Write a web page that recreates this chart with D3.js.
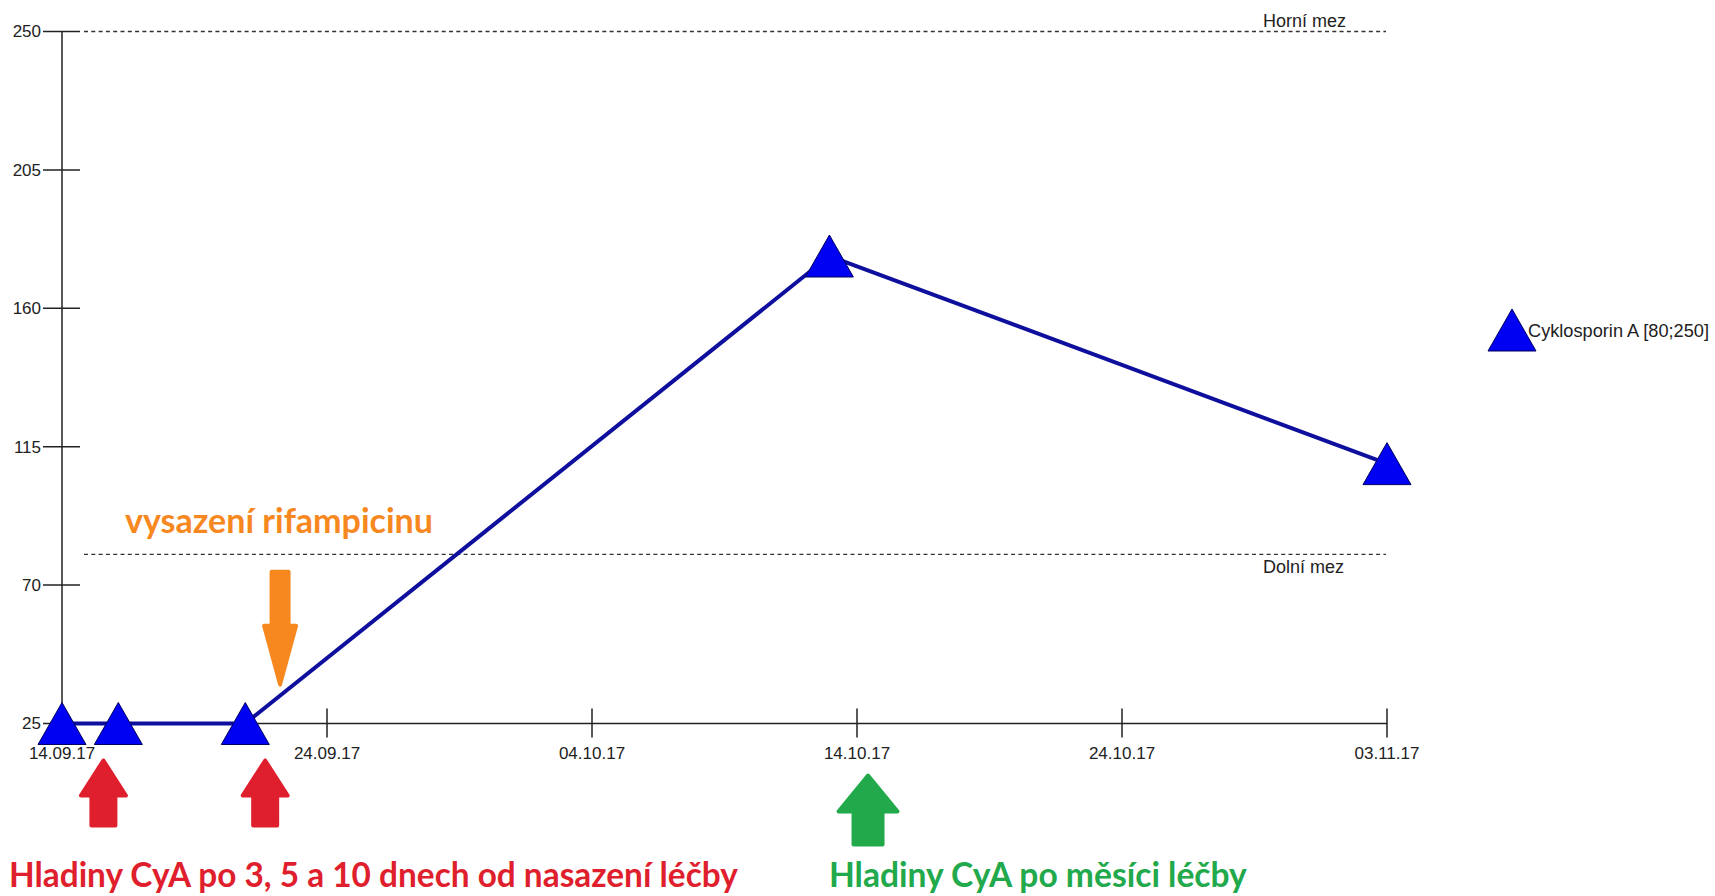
<!DOCTYPE html>
<html>
<head>
<meta charset="utf-8">
<script src="https://cdn.jsdelivr.net/npm/d3@7"></script>
<style>
  html, body { margin: 0; padding: 0; background: #fff; }
  svg { display: block; }
</style>
</head>
<body>
<svg id="chart" width="1715" height="896"></svg>
<script>
// ---- data ----
const seriesName = "Cyklosporin A [80;250]";
const dates = ["2017-09-14T00:00", "2017-09-16T03:00", "2017-09-20T22:00", "2017-10-12T23:00", "2017-11-03T00:00"];
const values = [25, 25, 25, 177, 109.5];
const yTicks = [25, 70, 115, 160, 205, 250];
const xTickDates = ["2017-09-14", "2017-09-24", "2017-10-04", "2017-10-14", "2017-10-24", "2017-11-03"];
const limitValues = [250, 80];
const limitLabels = ["Horní mez", "Dolní mez"];
// annotation arrows (anchored on dates)
const upArrowDates = ["2017-09-15T13:30", "2017-09-21T16:00"];
const greenArrowDate = "2017-10-14T10:00";
const orangeArrowDate = "2017-09-22T05:30";
const orangeArrowRange = [75, 37];
const annotationTexts = ["vysazení rifampicinu", "Hladiny CyA po 3, 5 a 10 dnech od nasazení léčby", "Hladiny CyA po měsíci léčby"];

// ---- setup ----
const parse = d3.utcParse("%Y-%m-%dT%H:%M");
const parseDay = d3.utcParse("%Y-%m-%d");
const fmt = d3.utcFormat("%d.%m.%y");
const svg = d3.select("#chart");

const x = d3.scaleUtc()
  .domain([parseDay(xTickDates[0]), parseDay(xTickDates[xTickDates.length - 1])])
  .range([62, 1387]);
const y = d3.scaleLinear().domain([25, 250]).range([723.5, 31.5]);

const axisColor = "#222";
const fontAxis = "'Liberation Sans', Arial, sans-serif";
const fontNote = "Lato, 'Open Sans', sans-serif";

// limit lines
const limitG = svg.append("g");
limitValues.forEach((v, i) => {
  limitG.append("line")
    .attr("x1", 84).attr("x2", 1386)
    .attr("y1", y(v)).attr("y2", y(v))
    .attr("stroke", "#333").attr("stroke-width", 1.3)
    .attr("stroke-dasharray", "4,3.3");
  limitG.append("text")
    .attr("x", 1263)
    .attr("y", i === 0 ? y(v) - 5 : y(v) + 19)
    .attr("font-family", fontAxis).attr("font-size", 18)
    .attr("fill", "#222")
    .text(limitLabels[i]);
});

// y axis
const yAx = svg.append("g");
yAx.append("line")
  .attr("x1", x.range()[0]).attr("x2", x.range()[0])
  .attr("y1", y(250)).attr("y2", y(25))
  .attr("stroke", axisColor).attr("stroke-width", 1.5);
yTicks.forEach(t => {
  yAx.append("line")
    .attr("x1", 43).attr("x2", 80)
    .attr("y1", y(t)).attr("y2", y(t))
    .attr("stroke", axisColor).attr("stroke-width", 1.5);
  yAx.append("text")
    .attr("x", 41).attr("y", y(t))
    .attr("dy", "0.35em")
    .attr("text-anchor", "end")
    .attr("font-family", fontAxis).attr("font-size", 17)
    .attr("fill", "#222")
    .text(t);
});

// x axis
const xAx = svg.append("g");
xAx.append("line")
  .attr("x1", x.range()[0]).attr("x2", x.range()[1])
  .attr("y1", y(25)).attr("y2", y(25))
  .attr("stroke", axisColor).attr("stroke-width", 1.5);
xTickDates.forEach(ds => {
  const d = parseDay(ds);
  xAx.append("line")
    .attr("x1", x(d)).attr("x2", x(d))
    .attr("y1", y(25) - 15).attr("y2", y(25) + 14)
    .attr("stroke", axisColor).attr("stroke-width", 1.5);
  xAx.append("text")
    .attr("x", x(d)).attr("y", y(25) + 35)
    .attr("text-anchor", "middle")
    .attr("font-family", fontAxis).attr("font-size", 17)
    .attr("fill", "#222")
    .text(fmt(d));
});

// series
const data = dates.map((d, i) => ({ date: parse(d), value: values[i] }));
svg.append("path")
  .datum(data)
  .attr("fill", "none")
  .attr("stroke", "#0f0f9e")
  .attr("stroke-width", 4)
  .attr("stroke-linejoin", "round")
  .attr("d", d3.line().x(d => x(d.date)).y(d => y(d.value)));

function triPath(cx, cy) {
  const w = 48, h = 42;
  return `M${cx},${cy - h / 2}L${cx + w / 2},${cy + h / 2}L${cx - w / 2},${cy + h / 2}Z`;
}
svg.append("g").selectAll("path")
  .data(data)
  .join("path")
  .attr("d", d => triPath(x(d.date), y(d.value)))
  .attr("fill", "#0000f2")
  .attr("stroke", "#000060")
  .attr("stroke-width", 1);

// legend
svg.append("path")
  .attr("d", triPath(1512, 330))
  .attr("fill", "#0000f2").attr("stroke", "#000060").attr("stroke-width", 1);
svg.append("text")
  .attr("x", 1528).attr("y", 337)
  .attr("font-family", fontAxis).attr("font-size", 18.2)
  .attr("fill", "#222")
  .text(seriesName);

// ---- annotations ----
function upArrow(cx, top, headBase, bottom, headHW, shaftHW) {
  return `M${cx},${top}L${cx + headHW},${headBase}L${cx + shaftHW},${headBase}L${cx + shaftHW},${bottom}` +
         `L${cx - shaftHW},${bottom}L${cx - shaftHW},${headBase}L${cx - headHW},${headBase}Z`;
}
function downArrow(cx, top, headTop, tip, headHW, shaftHW) {
  return `M${cx - shaftHW},${top}L${cx + shaftHW},${top}L${cx + shaftHW},${headTop}L${cx + headHW},${headTop}` +
         `L${cx},${tip}L${cx - headHW},${headTop}L${cx - shaftHW},${headTop}Z`;
}
const red = "#df1f2d", green = "#21a94b", orange = "#f7881f";
const base = y(25);
// red arrows
upArrowDates.forEach(ds => {
  const cx = x(parse(ds));
  svg.append("path")
    .attr("d", upArrow(cx, base + 37, base + 72, base + 102, 22.5, 12))
    .attr("fill", red).attr("stroke", red).attr("stroke-width", 4).attr("stroke-linejoin", "round");
});
// green arrow
{
  const cx = x(parse(greenArrowDate));
  svg.append("path")
    .attr("d", upArrow(cx, base + 52, base + 88, base + 121, 29.5, 14.5))
    .attr("fill", green).attr("stroke", green).attr("stroke-width", 4).attr("stroke-linejoin", "round");
}
// orange arrow
{
  const cx = x(parse(orangeArrowDate));
  const top = y(orangeArrowRange[0]), tip = y(orangeArrowRange[1]);
  svg.append("path")
    .attr("d", downArrow(cx, top + 2, top + 56, tip - 2, 16, 8.5))
    .attr("fill", orange).attr("stroke", orange).attr("stroke-width", 4).attr("stroke-linejoin", "round");
}

function fitText(sel, targetWidth) {
  const fs = parseFloat(sel.attr("font-size"));
  const w = sel.node().getComputedTextLength();
  sel.attr("font-size", fs * targetWidth / w);
}
const t1 = svg.append("text")
  .attr("x", 125).attr("y", 533)
  .attr("font-family", fontNote).attr("font-weight", 700).attr("font-size", 28)
  .attr("fill", orange).text(annotationTexts[0]);
fitText(t1, 308);
const t2 = svg.append("text")
  .attr("x", 9).attr("y", 887)
  .attr("font-family", fontNote).attr("font-weight", 700).attr("font-size", 30)
  .attr("fill", red).text(annotationTexts[1]);
fitText(t2, 729);
const t3 = svg.append("text")
  .attr("x", 829).attr("y", 887)
  .attr("font-family", fontNote).attr("font-weight", 700).attr("font-size", 30)
  .attr("fill", green).text(annotationTexts[2]);
fitText(t3, 418);
</script>
</body>
</html>
